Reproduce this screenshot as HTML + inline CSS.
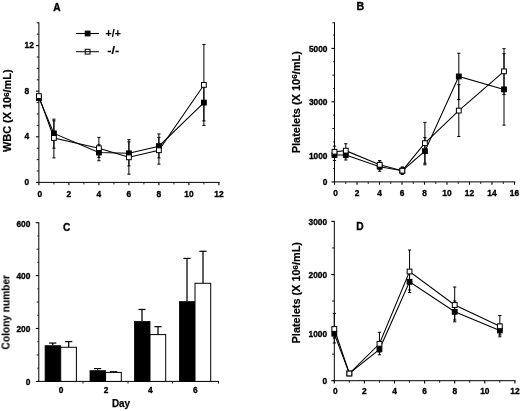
<!DOCTYPE html>
<html><head><meta charset="utf-8"><title>Figure</title>
<style>
html,body{margin:0;padding:0;background:#fff;}
body{width:520px;height:411px;overflow:hidden;font-family:'Liberation Sans', sans-serif;}
svg{display:block;font-family:'Liberation Sans',sans-serif;}
</style></head><body>
<svg width="520" height="411" viewBox="0 0 520 411" fill="#000">
<defs><filter id="soft" x="0" y="0" width="100%" height="100%" filterUnits="userSpaceOnUse"><feGaussianBlur stdDeviation="0.35"/></filter></defs>
<rect x="0" y="0" width="520" height="411" fill="#fff"/>
<g filter="url(#soft)">
<rect x="0" y="0" width="520" height="411" fill="#fff"/>
<line x1="38.90" y1="22.30" x2="38.90" y2="182.90" stroke="#000" stroke-width="1.0"/>
<line x1="38.40" y1="182.40" x2="219.70" y2="182.40" stroke="#000" stroke-width="1.0"/>
<line x1="35.90" y1="182.40" x2="38.90" y2="182.40" stroke="#000" stroke-width="1.1"/>
<line x1="35.90" y1="136.80" x2="38.90" y2="136.80" stroke="#000" stroke-width="1.1"/>
<line x1="35.90" y1="91.20" x2="38.90" y2="91.20" stroke="#000" stroke-width="1.1"/>
<line x1="35.90" y1="45.60" x2="38.90" y2="45.60" stroke="#000" stroke-width="1.1"/>
<line x1="36.70" y1="171.00" x2="38.90" y2="171.00" stroke="#000" stroke-width="0.9"/>
<line x1="36.70" y1="159.60" x2="38.90" y2="159.60" stroke="#000" stroke-width="0.9"/>
<line x1="36.70" y1="148.20" x2="38.90" y2="148.20" stroke="#000" stroke-width="0.9"/>
<line x1="36.70" y1="125.40" x2="38.90" y2="125.40" stroke="#000" stroke-width="0.9"/>
<line x1="36.70" y1="114.00" x2="38.90" y2="114.00" stroke="#000" stroke-width="0.9"/>
<line x1="36.70" y1="102.60" x2="38.90" y2="102.60" stroke="#000" stroke-width="0.9"/>
<line x1="36.70" y1="79.80" x2="38.90" y2="79.80" stroke="#000" stroke-width="0.9"/>
<line x1="36.70" y1="68.40" x2="38.90" y2="68.40" stroke="#000" stroke-width="0.9"/>
<line x1="36.70" y1="57.00" x2="38.90" y2="57.00" stroke="#000" stroke-width="0.9"/>
<line x1="36.70" y1="34.20" x2="38.90" y2="34.20" stroke="#000" stroke-width="0.9"/>
<line x1="36.70" y1="22.80" x2="38.90" y2="22.80" stroke="#000" stroke-width="0.9"/>
<line x1="38.90" y1="182.40" x2="38.90" y2="185.20" stroke="#000" stroke-width="1.1"/>
<line x1="68.90" y1="182.40" x2="68.90" y2="185.20" stroke="#000" stroke-width="1.1"/>
<line x1="98.90" y1="182.40" x2="98.90" y2="185.20" stroke="#000" stroke-width="1.1"/>
<line x1="128.90" y1="182.40" x2="128.90" y2="185.20" stroke="#000" stroke-width="1.1"/>
<line x1="158.90" y1="182.40" x2="158.90" y2="185.20" stroke="#000" stroke-width="1.1"/>
<line x1="188.90" y1="182.40" x2="188.90" y2="185.20" stroke="#000" stroke-width="1.1"/>
<line x1="218.90" y1="182.40" x2="218.90" y2="185.20" stroke="#000" stroke-width="1.1"/>
<line x1="53.90" y1="182.40" x2="53.90" y2="184.40" stroke="#000" stroke-width="0.9"/>
<line x1="83.90" y1="182.40" x2="83.90" y2="184.40" stroke="#000" stroke-width="0.9"/>
<line x1="113.90" y1="182.40" x2="113.90" y2="184.40" stroke="#000" stroke-width="0.9"/>
<line x1="143.90" y1="182.40" x2="143.90" y2="184.40" stroke="#000" stroke-width="0.9"/>
<line x1="173.90" y1="182.40" x2="173.90" y2="184.40" stroke="#000" stroke-width="0.9"/>
<line x1="203.90" y1="182.40" x2="203.90" y2="184.40" stroke="#000" stroke-width="0.9"/>
<text x="24.50" y="184.83" font-size="9.3" font-weight="bold" text-anchor="start" stroke="#000" stroke-width="0.35" textLength="4.65" lengthAdjust="spacingAndGlyphs">0</text>
<text x="24.50" y="139.23" font-size="9.3" font-weight="bold" text-anchor="start" stroke="#000" stroke-width="0.35" textLength="4.65" lengthAdjust="spacingAndGlyphs">4</text>
<text x="24.50" y="93.63" font-size="9.3" font-weight="bold" text-anchor="start" stroke="#000" stroke-width="0.35" textLength="4.65" lengthAdjust="spacingAndGlyphs">8</text>
<text x="24.50" y="48.03" font-size="9.3" font-weight="bold" text-anchor="start" stroke="#000" stroke-width="0.35" textLength="9.31" lengthAdjust="spacingAndGlyphs">12</text>
<text x="39.90" y="196.83" font-size="9.3" font-weight="bold" text-anchor="middle" stroke="#000" stroke-width="0.35" textLength="4.65" lengthAdjust="spacingAndGlyphs">0</text>
<text x="68.90" y="196.83" font-size="9.3" font-weight="bold" text-anchor="middle" stroke="#000" stroke-width="0.35" textLength="4.65" lengthAdjust="spacingAndGlyphs">2</text>
<text x="98.90" y="196.83" font-size="9.3" font-weight="bold" text-anchor="middle" stroke="#000" stroke-width="0.35" textLength="4.65" lengthAdjust="spacingAndGlyphs">4</text>
<text x="128.90" y="196.83" font-size="9.3" font-weight="bold" text-anchor="middle" stroke="#000" stroke-width="0.35" textLength="4.65" lengthAdjust="spacingAndGlyphs">6</text>
<text x="158.90" y="196.83" font-size="9.3" font-weight="bold" text-anchor="middle" stroke="#000" stroke-width="0.35" textLength="4.65" lengthAdjust="spacingAndGlyphs">8</text>
<text x="188.90" y="196.83" font-size="9.3" font-weight="bold" text-anchor="middle" stroke="#000" stroke-width="0.35" textLength="9.31" lengthAdjust="spacingAndGlyphs">10</text>
<text x="218.90" y="196.83" font-size="9.3" font-weight="bold" text-anchor="middle" stroke="#000" stroke-width="0.35" textLength="9.31" lengthAdjust="spacingAndGlyphs">12</text>
<line x1="53.90" y1="119.13" x2="53.90" y2="148.20" stroke="#000" stroke-width="1.0"/>
<line x1="52.30" y1="119.13" x2="55.50" y2="119.13" stroke="#000" stroke-width="1.0"/>
<line x1="52.30" y1="148.20" x2="55.50" y2="148.20" stroke="#000" stroke-width="1.0"/>
<line x1="98.90" y1="144.78" x2="98.90" y2="160.74" stroke="#000" stroke-width="1.0"/>
<line x1="97.30" y1="144.78" x2="100.50" y2="144.78" stroke="#000" stroke-width="1.0"/>
<line x1="97.30" y1="160.74" x2="100.50" y2="160.74" stroke="#000" stroke-width="1.0"/>
<line x1="128.90" y1="139.65" x2="128.90" y2="165.87" stroke="#000" stroke-width="1.0"/>
<line x1="127.30" y1="139.65" x2="130.50" y2="139.65" stroke="#000" stroke-width="1.0"/>
<line x1="127.30" y1="165.87" x2="130.50" y2="165.87" stroke="#000" stroke-width="1.0"/>
<line x1="158.90" y1="133.95" x2="158.90" y2="157.89" stroke="#000" stroke-width="1.0"/>
<line x1="157.30" y1="133.95" x2="160.50" y2="133.95" stroke="#000" stroke-width="1.0"/>
<line x1="157.30" y1="157.89" x2="160.50" y2="157.89" stroke="#000" stroke-width="1.0"/>
<line x1="203.90" y1="84.36" x2="203.90" y2="120.84" stroke="#000" stroke-width="1.0"/>
<line x1="202.30" y1="84.36" x2="205.50" y2="84.36" stroke="#000" stroke-width="1.0"/>
<line x1="202.30" y1="120.84" x2="205.50" y2="120.84" stroke="#000" stroke-width="1.0"/>
<polyline points="38.90,98.04 53.90,133.38 98.90,152.53 128.90,153.33 158.90,146.15 203.90,102.60" fill="none" stroke="#000" stroke-width="1.05"/>
<line x1="53.90" y1="120.84" x2="53.90" y2="157.89" stroke="#000" stroke-width="1.0"/>
<line x1="52.30" y1="120.84" x2="55.50" y2="120.84" stroke="#000" stroke-width="1.0"/>
<line x1="52.30" y1="157.89" x2="55.50" y2="157.89" stroke="#000" stroke-width="1.0"/>
<line x1="98.90" y1="137.37" x2="98.90" y2="157.32" stroke="#000" stroke-width="1.0"/>
<line x1="97.30" y1="137.37" x2="100.50" y2="137.37" stroke="#000" stroke-width="1.0"/>
<line x1="97.30" y1="157.32" x2="100.50" y2="157.32" stroke="#000" stroke-width="1.0"/>
<line x1="128.90" y1="141.93" x2="128.90" y2="174.19" stroke="#000" stroke-width="1.0"/>
<line x1="127.30" y1="141.93" x2="130.50" y2="141.93" stroke="#000" stroke-width="1.0"/>
<line x1="127.30" y1="174.19" x2="130.50" y2="174.19" stroke="#000" stroke-width="1.0"/>
<line x1="158.90" y1="137.37" x2="158.90" y2="164.16" stroke="#000" stroke-width="1.0"/>
<line x1="157.30" y1="137.37" x2="160.50" y2="137.37" stroke="#000" stroke-width="1.0"/>
<line x1="157.30" y1="164.16" x2="160.50" y2="164.16" stroke="#000" stroke-width="1.0"/>
<line x1="203.90" y1="44.46" x2="203.90" y2="125.40" stroke="#000" stroke-width="1.0"/>
<line x1="202.30" y1="44.46" x2="205.50" y2="44.46" stroke="#000" stroke-width="1.0"/>
<line x1="202.30" y1="125.40" x2="205.50" y2="125.40" stroke="#000" stroke-width="1.0"/>
<polyline points="38.90,96.10 53.90,137.94 98.90,148.20 128.90,157.32 158.90,150.25 203.90,84.93" fill="none" stroke="#000" stroke-width="1.05"/>
<rect x="36.50" y="95.64" width="4.8" height="4.8" fill="#000" stroke="#000" stroke-width="1"/>
<rect x="51.50" y="130.98" width="4.8" height="4.8" fill="#000" stroke="#000" stroke-width="1"/>
<rect x="96.50" y="150.13" width="4.8" height="4.8" fill="#000" stroke="#000" stroke-width="1"/>
<rect x="126.50" y="150.93" width="4.8" height="4.8" fill="#000" stroke="#000" stroke-width="1"/>
<rect x="156.50" y="143.75" width="4.8" height="4.8" fill="#000" stroke="#000" stroke-width="1"/>
<rect x="201.50" y="100.20" width="4.8" height="4.8" fill="#000" stroke="#000" stroke-width="1"/>
<rect x="36.50" y="93.70" width="4.8" height="4.8" fill="#fff" stroke="#000" stroke-width="1"/>
<rect x="51.50" y="135.54" width="4.8" height="4.8" fill="#fff" stroke="#000" stroke-width="1"/>
<rect x="96.50" y="145.80" width="4.8" height="4.8" fill="#fff" stroke="#000" stroke-width="1"/>
<rect x="126.50" y="154.92" width="4.8" height="4.8" fill="#fff" stroke="#000" stroke-width="1"/>
<rect x="156.50" y="147.85" width="4.8" height="4.8" fill="#fff" stroke="#000" stroke-width="1"/>
<rect x="201.50" y="82.53" width="4.8" height="4.8" fill="#fff" stroke="#000" stroke-width="1"/>
<text x="57.00" y="10.65" font-size="10.2" font-weight="bold" text-anchor="middle" stroke="#000" stroke-width="0.35">A</text>
<line x1="75.90" y1="33.50" x2="98.90" y2="33.50" stroke="#000" stroke-width="1.1"/>
<rect x="85.20" y="31.10" width="4.8" height="4.8" fill="#000" stroke="#000" stroke-width="1"/>
<rect x="85.20" y="49.30" width="4.8" height="4.8" fill="#fff" stroke="#000" stroke-width="1"/>
<line x1="75.90" y1="51.70" x2="98.90" y2="51.70" stroke="#000" stroke-width="1.0"/>
<text x="113.20" y="37.40" font-size="11" font-weight="bold" text-anchor="middle" stroke="#000" stroke-width="0.15" textLength="15.2" lengthAdjust="spacingAndGlyphs">+/+</text>
<text x="113.20" y="53.90" font-size="11" font-weight="bold" text-anchor="middle" stroke="#000" stroke-width="0.15" textLength="11.9" lengthAdjust="spacingAndGlyphs">-/-</text>
<text x="11.40" y="110.70" font-size="11" font-weight="bold" text-anchor="middle" stroke="#000" stroke-width="0.2" transform="rotate(-90 11.40 110.70)" textLength="82.7" lengthAdjust="spacingAndGlyphs">WBC (X 10<tspan font-size="8" dy="-2.6">6</tspan><tspan dy="2.6">/mL)</tspan></text>
<line x1="334.50" y1="22.27" x2="334.50" y2="182.40" stroke="#000" stroke-width="1.0"/>
<line x1="334.00" y1="181.90" x2="515.30" y2="181.90" stroke="#000" stroke-width="1.0"/>
<line x1="331.50" y1="181.90" x2="334.50" y2="181.90" stroke="#000" stroke-width="1.1"/>
<line x1="331.50" y1="155.20" x2="334.50" y2="155.20" stroke="#000" stroke-width="1.1"/>
<line x1="331.50" y1="101.80" x2="334.50" y2="101.80" stroke="#000" stroke-width="1.1"/>
<line x1="331.50" y1="48.40" x2="334.50" y2="48.40" stroke="#000" stroke-width="1.1"/>
<line x1="332.30" y1="128.50" x2="334.50" y2="128.50" stroke="#000" stroke-width="0.9"/>
<line x1="332.30" y1="75.10" x2="334.50" y2="75.10" stroke="#000" stroke-width="0.9"/>
<line x1="332.30" y1="22.77" x2="334.50" y2="22.77" stroke="#000" stroke-width="0.9"/>
<line x1="333.00" y1="168.55" x2="334.50" y2="168.55" stroke="#000" stroke-width="0.8"/>
<line x1="333.00" y1="141.85" x2="334.50" y2="141.85" stroke="#000" stroke-width="0.8"/>
<line x1="333.00" y1="115.15" x2="334.50" y2="115.15" stroke="#000" stroke-width="0.8"/>
<line x1="333.00" y1="88.45" x2="334.50" y2="88.45" stroke="#000" stroke-width="0.8"/>
<line x1="333.00" y1="61.75" x2="334.50" y2="61.75" stroke="#000" stroke-width="0.8"/>
<line x1="333.00" y1="35.05" x2="334.50" y2="35.05" stroke="#000" stroke-width="0.8"/>
<line x1="334.50" y1="181.90" x2="334.50" y2="184.70" stroke="#000" stroke-width="1.1"/>
<line x1="357.00" y1="181.90" x2="357.00" y2="184.70" stroke="#000" stroke-width="1.1"/>
<line x1="379.50" y1="181.90" x2="379.50" y2="184.70" stroke="#000" stroke-width="1.1"/>
<line x1="402.00" y1="181.90" x2="402.00" y2="184.70" stroke="#000" stroke-width="1.1"/>
<line x1="424.50" y1="181.90" x2="424.50" y2="184.70" stroke="#000" stroke-width="1.1"/>
<line x1="447.00" y1="181.90" x2="447.00" y2="184.70" stroke="#000" stroke-width="1.1"/>
<line x1="469.50" y1="181.90" x2="469.50" y2="184.70" stroke="#000" stroke-width="1.1"/>
<line x1="492.00" y1="181.90" x2="492.00" y2="184.70" stroke="#000" stroke-width="1.1"/>
<line x1="514.50" y1="181.90" x2="514.50" y2="184.70" stroke="#000" stroke-width="1.1"/>
<line x1="345.75" y1="181.90" x2="345.75" y2="183.90" stroke="#000" stroke-width="0.9"/>
<line x1="368.25" y1="181.90" x2="368.25" y2="183.90" stroke="#000" stroke-width="0.9"/>
<line x1="390.75" y1="181.90" x2="390.75" y2="183.90" stroke="#000" stroke-width="0.9"/>
<line x1="413.25" y1="181.90" x2="413.25" y2="183.90" stroke="#000" stroke-width="0.9"/>
<line x1="435.75" y1="181.90" x2="435.75" y2="183.90" stroke="#000" stroke-width="0.9"/>
<line x1="458.25" y1="181.90" x2="458.25" y2="183.90" stroke="#000" stroke-width="0.9"/>
<line x1="480.75" y1="181.90" x2="480.75" y2="183.90" stroke="#000" stroke-width="0.9"/>
<line x1="503.25" y1="181.90" x2="503.25" y2="183.90" stroke="#000" stroke-width="0.9"/>
<text x="327.50" y="185.23" font-size="9.3" font-weight="bold" text-anchor="end" stroke="#000" stroke-width="0.35" textLength="4.65" lengthAdjust="spacingAndGlyphs">0</text>
<text x="327.50" y="158.53" font-size="9.3" font-weight="bold" text-anchor="end" stroke="#000" stroke-width="0.35" textLength="18.61" lengthAdjust="spacingAndGlyphs">1000</text>
<text x="327.50" y="105.13" font-size="9.3" font-weight="bold" text-anchor="end" stroke="#000" stroke-width="0.35" textLength="18.61" lengthAdjust="spacingAndGlyphs">3000</text>
<text x="327.50" y="51.73" font-size="9.3" font-weight="bold" text-anchor="end" stroke="#000" stroke-width="0.35" textLength="18.61" lengthAdjust="spacingAndGlyphs">5000</text>
<text x="335.50" y="196.43" font-size="9.3" font-weight="bold" text-anchor="middle" stroke="#000" stroke-width="0.35" textLength="4.65" lengthAdjust="spacingAndGlyphs">0</text>
<text x="357.00" y="196.43" font-size="9.3" font-weight="bold" text-anchor="middle" stroke="#000" stroke-width="0.35" textLength="4.65" lengthAdjust="spacingAndGlyphs">2</text>
<text x="379.50" y="196.43" font-size="9.3" font-weight="bold" text-anchor="middle" stroke="#000" stroke-width="0.35" textLength="4.65" lengthAdjust="spacingAndGlyphs">4</text>
<text x="402.00" y="196.43" font-size="9.3" font-weight="bold" text-anchor="middle" stroke="#000" stroke-width="0.35" textLength="4.65" lengthAdjust="spacingAndGlyphs">6</text>
<text x="424.50" y="196.43" font-size="9.3" font-weight="bold" text-anchor="middle" stroke="#000" stroke-width="0.35" textLength="4.65" lengthAdjust="spacingAndGlyphs">8</text>
<text x="447.00" y="196.43" font-size="9.3" font-weight="bold" text-anchor="middle" stroke="#000" stroke-width="0.35" textLength="9.31" lengthAdjust="spacingAndGlyphs">10</text>
<text x="469.50" y="196.43" font-size="9.3" font-weight="bold" text-anchor="middle" stroke="#000" stroke-width="0.35" textLength="9.31" lengthAdjust="spacingAndGlyphs">12</text>
<text x="492.00" y="196.43" font-size="9.3" font-weight="bold" text-anchor="middle" stroke="#000" stroke-width="0.35" textLength="9.31" lengthAdjust="spacingAndGlyphs">14</text>
<text x="514.50" y="196.43" font-size="9.3" font-weight="bold" text-anchor="middle" stroke="#000" stroke-width="0.35" textLength="9.31" lengthAdjust="spacingAndGlyphs">16</text>
<line x1="334.50" y1="149.86" x2="334.50" y2="160.54" stroke="#000" stroke-width="1.0"/>
<line x1="332.90" y1="149.86" x2="336.10" y2="149.86" stroke="#000" stroke-width="1.0"/>
<line x1="332.90" y1="160.54" x2="336.10" y2="160.54" stroke="#000" stroke-width="1.0"/>
<line x1="345.80" y1="149.86" x2="345.80" y2="160.01" stroke="#000" stroke-width="1.0"/>
<line x1="344.20" y1="149.86" x2="347.40" y2="149.86" stroke="#000" stroke-width="1.0"/>
<line x1="344.20" y1="160.01" x2="347.40" y2="160.01" stroke="#000" stroke-width="1.0"/>
<line x1="379.70" y1="162.14" x2="379.70" y2="171.22" stroke="#000" stroke-width="1.0"/>
<line x1="378.10" y1="162.14" x2="381.30" y2="162.14" stroke="#000" stroke-width="1.0"/>
<line x1="378.10" y1="171.22" x2="381.30" y2="171.22" stroke="#000" stroke-width="1.0"/>
<line x1="402.30" y1="167.48" x2="402.30" y2="173.89" stroke="#000" stroke-width="1.0"/>
<line x1="400.70" y1="167.48" x2="403.90" y2="167.48" stroke="#000" stroke-width="1.0"/>
<line x1="400.70" y1="173.89" x2="403.90" y2="173.89" stroke="#000" stroke-width="1.0"/>
<line x1="424.90" y1="137.58" x2="424.90" y2="164.81" stroke="#000" stroke-width="1.0"/>
<line x1="423.30" y1="137.58" x2="426.50" y2="137.58" stroke="#000" stroke-width="1.0"/>
<line x1="423.30" y1="164.81" x2="426.50" y2="164.81" stroke="#000" stroke-width="1.0"/>
<line x1="458.80" y1="53.21" x2="458.80" y2="99.66" stroke="#000" stroke-width="1.0"/>
<line x1="457.20" y1="53.21" x2="460.40" y2="53.21" stroke="#000" stroke-width="1.0"/>
<line x1="457.20" y1="99.66" x2="460.40" y2="99.66" stroke="#000" stroke-width="1.0"/>
<line x1="504.00" y1="53.61" x2="504.00" y2="125.16" stroke="#000" stroke-width="1.0"/>
<line x1="502.40" y1="53.61" x2="505.60" y2="53.61" stroke="#000" stroke-width="1.0"/>
<line x1="502.40" y1="125.16" x2="505.60" y2="125.16" stroke="#000" stroke-width="1.0"/>
<polyline points="334.50,154.93 345.80,154.93 379.70,166.68 402.30,170.69 424.90,151.19 458.80,76.44 504.00,89.38" fill="none" stroke="#000" stroke-width="1.05"/>
<line x1="334.50" y1="146.12" x2="334.50" y2="157.34" stroke="#000" stroke-width="1.0"/>
<line x1="332.90" y1="146.12" x2="336.10" y2="146.12" stroke="#000" stroke-width="1.0"/>
<line x1="332.90" y1="157.34" x2="336.10" y2="157.34" stroke="#000" stroke-width="1.0"/>
<line x1="345.80" y1="143.72" x2="345.80" y2="157.87" stroke="#000" stroke-width="1.0"/>
<line x1="344.20" y1="143.72" x2="347.40" y2="143.72" stroke="#000" stroke-width="1.0"/>
<line x1="344.20" y1="157.87" x2="347.40" y2="157.87" stroke="#000" stroke-width="1.0"/>
<line x1="379.70" y1="160.54" x2="379.70" y2="169.08" stroke="#000" stroke-width="1.0"/>
<line x1="378.10" y1="160.54" x2="381.30" y2="160.54" stroke="#000" stroke-width="1.0"/>
<line x1="378.10" y1="169.08" x2="381.30" y2="169.08" stroke="#000" stroke-width="1.0"/>
<line x1="402.30" y1="166.95" x2="402.30" y2="174.42" stroke="#000" stroke-width="1.0"/>
<line x1="400.70" y1="166.95" x2="403.90" y2="166.95" stroke="#000" stroke-width="1.0"/>
<line x1="400.70" y1="174.42" x2="403.90" y2="174.42" stroke="#000" stroke-width="1.0"/>
<line x1="424.90" y1="122.36" x2="424.90" y2="163.21" stroke="#000" stroke-width="1.0"/>
<line x1="423.30" y1="122.36" x2="426.50" y2="122.36" stroke="#000" stroke-width="1.0"/>
<line x1="423.30" y1="163.21" x2="426.50" y2="163.21" stroke="#000" stroke-width="1.0"/>
<line x1="458.80" y1="84.71" x2="458.80" y2="136.51" stroke="#000" stroke-width="1.0"/>
<line x1="457.20" y1="84.71" x2="460.40" y2="84.71" stroke="#000" stroke-width="1.0"/>
<line x1="457.20" y1="136.51" x2="460.40" y2="136.51" stroke="#000" stroke-width="1.0"/>
<line x1="504.00" y1="48.67" x2="504.00" y2="94.59" stroke="#000" stroke-width="1.0"/>
<line x1="502.40" y1="48.67" x2="505.60" y2="48.67" stroke="#000" stroke-width="1.0"/>
<line x1="502.40" y1="94.59" x2="505.60" y2="94.59" stroke="#000" stroke-width="1.0"/>
<polyline points="334.50,151.73 345.80,150.66 379.70,164.81 402.30,170.69 424.90,143.19 458.80,110.61 504.00,71.36" fill="none" stroke="#000" stroke-width="1.05"/>
<rect x="332.10" y="152.53" width="4.8" height="4.8" fill="#000" stroke="#000" stroke-width="1"/>
<rect x="343.40" y="152.53" width="4.8" height="4.8" fill="#000" stroke="#000" stroke-width="1"/>
<rect x="377.30" y="164.28" width="4.8" height="4.8" fill="#000" stroke="#000" stroke-width="1"/>
<rect x="399.90" y="168.29" width="4.8" height="4.8" fill="#000" stroke="#000" stroke-width="1"/>
<rect x="422.50" y="148.79" width="4.8" height="4.8" fill="#000" stroke="#000" stroke-width="1"/>
<rect x="456.40" y="74.03" width="4.8" height="4.8" fill="#000" stroke="#000" stroke-width="1"/>
<rect x="501.60" y="86.98" width="4.8" height="4.8" fill="#000" stroke="#000" stroke-width="1"/>
<rect x="332.10" y="149.33" width="4.8" height="4.8" fill="#fff" stroke="#000" stroke-width="1"/>
<rect x="343.40" y="148.26" width="4.8" height="4.8" fill="#fff" stroke="#000" stroke-width="1"/>
<rect x="377.30" y="162.41" width="4.8" height="4.8" fill="#fff" stroke="#000" stroke-width="1"/>
<rect x="399.90" y="168.29" width="4.8" height="4.8" fill="#fff" stroke="#000" stroke-width="1"/>
<rect x="422.50" y="140.78" width="4.8" height="4.8" fill="#fff" stroke="#000" stroke-width="1"/>
<rect x="456.40" y="108.21" width="4.8" height="4.8" fill="#fff" stroke="#000" stroke-width="1"/>
<rect x="501.60" y="68.96" width="4.8" height="4.8" fill="#fff" stroke="#000" stroke-width="1"/>
<text x="360.30" y="10.10" font-size="10.6" font-weight="bold" text-anchor="middle" stroke="#000" stroke-width="0.35">B</text>
<text x="300.00" y="102.20" font-size="11" font-weight="bold" text-anchor="middle" stroke="#000" stroke-width="0.2" transform="rotate(-90 300.00 102.20)" textLength="102.2" lengthAdjust="spacingAndGlyphs">Platelets (X 10<tspan font-size="8" dy="-2.6">6</tspan><tspan dy="2.6">/mL)</tspan></text>
<line x1="38.80" y1="222.20" x2="38.80" y2="381.90" stroke="#000" stroke-width="1.0"/>
<line x1="38.30" y1="381.40" x2="219.00" y2="381.40" stroke="#000" stroke-width="1.0"/>
<line x1="35.80" y1="381.40" x2="38.80" y2="381.40" stroke="#000" stroke-width="1.1"/>
<line x1="35.80" y1="328.50" x2="38.80" y2="328.50" stroke="#000" stroke-width="1.1"/>
<line x1="35.80" y1="275.60" x2="38.80" y2="275.60" stroke="#000" stroke-width="1.1"/>
<line x1="35.80" y1="222.70" x2="38.80" y2="222.70" stroke="#000" stroke-width="1.1"/>
<line x1="36.60" y1="354.95" x2="38.80" y2="354.95" stroke="#000" stroke-width="0.9"/>
<line x1="36.60" y1="302.05" x2="38.80" y2="302.05" stroke="#000" stroke-width="0.9"/>
<line x1="36.60" y1="249.15" x2="38.80" y2="249.15" stroke="#000" stroke-width="0.9"/>
<line x1="37.30" y1="368.17" x2="38.80" y2="368.17" stroke="#000" stroke-width="0.8"/>
<line x1="37.30" y1="341.72" x2="38.80" y2="341.72" stroke="#000" stroke-width="0.8"/>
<line x1="37.30" y1="315.27" x2="38.80" y2="315.27" stroke="#000" stroke-width="0.8"/>
<line x1="37.30" y1="288.82" x2="38.80" y2="288.82" stroke="#000" stroke-width="0.8"/>
<line x1="37.30" y1="262.38" x2="38.80" y2="262.38" stroke="#000" stroke-width="0.8"/>
<line x1="37.30" y1="235.92" x2="38.80" y2="235.92" stroke="#000" stroke-width="0.8"/>
<text x="30.40" y="385.23" font-size="9.3" font-weight="bold" text-anchor="end" stroke="#000" stroke-width="0.35" textLength="4.65" lengthAdjust="spacingAndGlyphs">0</text>
<text x="30.40" y="332.33" font-size="9.3" font-weight="bold" text-anchor="end" stroke="#000" stroke-width="0.35" textLength="13.96" lengthAdjust="spacingAndGlyphs">200</text>
<text x="30.40" y="279.43" font-size="9.3" font-weight="bold" text-anchor="end" stroke="#000" stroke-width="0.35" textLength="13.96" lengthAdjust="spacingAndGlyphs">400</text>
<text x="30.40" y="226.53" font-size="9.3" font-weight="bold" text-anchor="end" stroke="#000" stroke-width="0.35" textLength="13.96" lengthAdjust="spacingAndGlyphs">600</text>
<line x1="83.00" y1="381.40" x2="83.00" y2="383.60" stroke="#000" stroke-width="0.9"/>
<line x1="128.00" y1="381.40" x2="128.00" y2="383.60" stroke="#000" stroke-width="0.9"/>
<line x1="172.50" y1="381.40" x2="172.50" y2="383.60" stroke="#000" stroke-width="0.9"/>
<line x1="218.50" y1="381.40" x2="218.50" y2="383.60" stroke="#000" stroke-width="0.9"/>
<line x1="52.70" y1="345.30" x2="52.70" y2="343.05" stroke="#000" stroke-width="1.25"/>
<line x1="49.10" y1="343.05" x2="56.30" y2="343.05" stroke="#000" stroke-width="1.2"/>
<line x1="68.70" y1="347.28" x2="68.70" y2="341.59" stroke="#000" stroke-width="1.25"/>
<line x1="65.10" y1="341.59" x2="72.30" y2="341.59" stroke="#000" stroke-width="1.2"/>
<rect x="45.10" y="345.70" width="15.6" height="35.70" fill="#000" stroke="#000" stroke-width="0.8"/>
<rect x="60.70" y="347.28" width="15.7" height="34.12" fill="#fff" stroke="#000" stroke-width="1"/>
<text x="61.10" y="392.93" font-size="9.3" font-weight="bold" text-anchor="middle" stroke="#000" stroke-width="0.35" textLength="4.65" lengthAdjust="spacingAndGlyphs">0</text>
<line x1="97.60" y1="370.29" x2="97.60" y2="368.57" stroke="#000" stroke-width="1.25"/>
<line x1="94.00" y1="368.57" x2="101.20" y2="368.57" stroke="#000" stroke-width="1.2"/>
<line x1="113.60" y1="372.41" x2="113.60" y2="371.75" stroke="#000" stroke-width="1.25"/>
<line x1="110.00" y1="371.75" x2="117.20" y2="371.75" stroke="#000" stroke-width="1.2"/>
<rect x="90.00" y="370.69" width="15.6" height="10.71" fill="#000" stroke="#000" stroke-width="0.8"/>
<rect x="105.60" y="372.41" width="15.7" height="8.99" fill="#fff" stroke="#000" stroke-width="1"/>
<text x="106.00" y="392.93" font-size="9.3" font-weight="bold" text-anchor="middle" stroke="#000" stroke-width="0.35" textLength="4.65" lengthAdjust="spacingAndGlyphs">2</text>
<line x1="142.00" y1="321.09" x2="142.00" y2="309.46" stroke="#000" stroke-width="1.25"/>
<line x1="138.40" y1="309.46" x2="145.60" y2="309.46" stroke="#000" stroke-width="1.2"/>
<line x1="158.00" y1="334.58" x2="158.00" y2="326.65" stroke="#000" stroke-width="1.25"/>
<line x1="154.40" y1="326.65" x2="161.60" y2="326.65" stroke="#000" stroke-width="1.2"/>
<rect x="134.40" y="321.49" width="15.6" height="59.91" fill="#000" stroke="#000" stroke-width="0.8"/>
<rect x="150.00" y="334.58" width="15.7" height="46.82" fill="#fff" stroke="#000" stroke-width="1"/>
<text x="150.40" y="392.93" font-size="9.3" font-weight="bold" text-anchor="middle" stroke="#000" stroke-width="0.35" textLength="4.65" lengthAdjust="spacingAndGlyphs">4</text>
<line x1="187.00" y1="301.26" x2="187.00" y2="258.41" stroke="#000" stroke-width="1.25"/>
<line x1="183.40" y1="258.41" x2="190.60" y2="258.41" stroke="#000" stroke-width="1.2"/>
<line x1="203.00" y1="283.27" x2="203.00" y2="251.27" stroke="#000" stroke-width="1.25"/>
<line x1="199.40" y1="251.27" x2="206.60" y2="251.27" stroke="#000" stroke-width="1.2"/>
<rect x="179.40" y="301.66" width="15.6" height="79.74" fill="#000" stroke="#000" stroke-width="0.8"/>
<rect x="195.00" y="283.27" width="15.7" height="98.13" fill="#fff" stroke="#000" stroke-width="1"/>
<text x="195.40" y="392.93" font-size="9.3" font-weight="bold" text-anchor="middle" stroke="#000" stroke-width="0.35" textLength="4.65" lengthAdjust="spacingAndGlyphs">6</text>
<text x="66.60" y="231.05" font-size="10.2" font-weight="bold" text-anchor="middle" stroke="#000" stroke-width="0.35">C</text>
<text x="121.00" y="406.50" font-size="10.3" font-weight="bold" text-anchor="middle" stroke="#000" stroke-width="0.25" textLength="18.2" lengthAdjust="spacingAndGlyphs">Day</text>
<text x="9.80" y="312.30" font-size="10.9" font-weight="bold" text-anchor="middle" stroke="#000" stroke-width="0.12" transform="rotate(-90 9.80 312.30)" textLength="74.4" lengthAdjust="spacingAndGlyphs">Colony number</text>
<line x1="334.30" y1="220.90" x2="334.30" y2="381.20" stroke="#000" stroke-width="1.0"/>
<line x1="333.80" y1="380.70" x2="515.70" y2="380.70" stroke="#000" stroke-width="1.0"/>
<line x1="331.30" y1="380.70" x2="334.30" y2="380.70" stroke="#000" stroke-width="1.1"/>
<line x1="331.30" y1="327.60" x2="334.30" y2="327.60" stroke="#000" stroke-width="1.1"/>
<line x1="331.30" y1="274.50" x2="334.30" y2="274.50" stroke="#000" stroke-width="1.1"/>
<line x1="331.30" y1="221.40" x2="334.30" y2="221.40" stroke="#000" stroke-width="1.1"/>
<line x1="332.10" y1="354.15" x2="334.30" y2="354.15" stroke="#000" stroke-width="0.9"/>
<line x1="332.10" y1="301.05" x2="334.30" y2="301.05" stroke="#000" stroke-width="0.9"/>
<line x1="332.10" y1="247.95" x2="334.30" y2="247.95" stroke="#000" stroke-width="0.9"/>
<line x1="334.30" y1="380.70" x2="334.30" y2="383.50" stroke="#000" stroke-width="1.1"/>
<line x1="364.40" y1="380.70" x2="364.40" y2="383.50" stroke="#000" stroke-width="1.1"/>
<line x1="394.50" y1="380.70" x2="394.50" y2="383.50" stroke="#000" stroke-width="1.1"/>
<line x1="424.60" y1="380.70" x2="424.60" y2="383.50" stroke="#000" stroke-width="1.1"/>
<line x1="454.70" y1="380.70" x2="454.70" y2="383.50" stroke="#000" stroke-width="1.1"/>
<line x1="484.80" y1="380.70" x2="484.80" y2="383.50" stroke="#000" stroke-width="1.1"/>
<line x1="514.90" y1="380.70" x2="514.90" y2="383.50" stroke="#000" stroke-width="1.1"/>
<line x1="349.35" y1="380.70" x2="349.35" y2="382.70" stroke="#000" stroke-width="0.9"/>
<line x1="379.45" y1="380.70" x2="379.45" y2="382.70" stroke="#000" stroke-width="0.9"/>
<line x1="409.55" y1="380.70" x2="409.55" y2="382.70" stroke="#000" stroke-width="0.9"/>
<line x1="439.65" y1="380.70" x2="439.65" y2="382.70" stroke="#000" stroke-width="0.9"/>
<line x1="469.75" y1="380.70" x2="469.75" y2="382.70" stroke="#000" stroke-width="0.9"/>
<line x1="499.85" y1="380.70" x2="499.85" y2="382.70" stroke="#000" stroke-width="0.9"/>
<text x="327.10" y="384.03" font-size="9.3" font-weight="bold" text-anchor="end" stroke="#000" stroke-width="0.35" textLength="4.65" lengthAdjust="spacingAndGlyphs">0</text>
<text x="327.10" y="336.83" font-size="9.3" font-weight="bold" text-anchor="end" stroke="#000" stroke-width="0.35" textLength="18.61" lengthAdjust="spacingAndGlyphs">1000</text>
<text x="327.10" y="277.83" font-size="9.3" font-weight="bold" text-anchor="end" stroke="#000" stroke-width="0.35" textLength="18.61" lengthAdjust="spacingAndGlyphs">2000</text>
<text x="327.10" y="224.73" font-size="9.3" font-weight="bold" text-anchor="end" stroke="#000" stroke-width="0.35" textLength="18.61" lengthAdjust="spacingAndGlyphs">3000</text>
<text x="335.30" y="393.63" font-size="9.3" font-weight="bold" text-anchor="middle" stroke="#000" stroke-width="0.35" textLength="4.65" lengthAdjust="spacingAndGlyphs">0</text>
<text x="364.40" y="393.63" font-size="9.3" font-weight="bold" text-anchor="middle" stroke="#000" stroke-width="0.35" textLength="4.65" lengthAdjust="spacingAndGlyphs">2</text>
<text x="394.50" y="393.63" font-size="9.3" font-weight="bold" text-anchor="middle" stroke="#000" stroke-width="0.35" textLength="4.65" lengthAdjust="spacingAndGlyphs">4</text>
<text x="424.60" y="393.63" font-size="9.3" font-weight="bold" text-anchor="middle" stroke="#000" stroke-width="0.35" textLength="4.65" lengthAdjust="spacingAndGlyphs">6</text>
<text x="454.70" y="393.63" font-size="9.3" font-weight="bold" text-anchor="middle" stroke="#000" stroke-width="0.35" textLength="4.65" lengthAdjust="spacingAndGlyphs">8</text>
<text x="484.80" y="393.63" font-size="9.3" font-weight="bold" text-anchor="middle" stroke="#000" stroke-width="0.35" textLength="9.31" lengthAdjust="spacingAndGlyphs">10</text>
<text x="514.90" y="393.63" font-size="9.3" font-weight="bold" text-anchor="middle" stroke="#000" stroke-width="0.35" textLength="9.31" lengthAdjust="spacingAndGlyphs">12</text>
<line x1="334.30" y1="328.00" x2="334.30" y2="338.00" stroke="#000" stroke-width="1.0"/>
<line x1="332.70" y1="328.00" x2="335.90" y2="328.00" stroke="#000" stroke-width="1.0"/>
<line x1="332.70" y1="338.00" x2="335.90" y2="338.00" stroke="#000" stroke-width="1.0"/>
<line x1="379.45" y1="343.00" x2="379.45" y2="354.80" stroke="#000" stroke-width="1.0"/>
<line x1="377.85" y1="343.00" x2="381.05" y2="343.00" stroke="#000" stroke-width="1.0"/>
<line x1="377.85" y1="354.80" x2="381.05" y2="354.80" stroke="#000" stroke-width="1.0"/>
<line x1="409.55" y1="270.00" x2="409.55" y2="292.50" stroke="#000" stroke-width="1.0"/>
<line x1="407.95" y1="270.00" x2="411.15" y2="270.00" stroke="#000" stroke-width="1.0"/>
<line x1="407.95" y1="292.50" x2="411.15" y2="292.50" stroke="#000" stroke-width="1.0"/>
<line x1="454.70" y1="301.00" x2="454.70" y2="321.80" stroke="#000" stroke-width="1.0"/>
<line x1="453.10" y1="301.00" x2="456.30" y2="301.00" stroke="#000" stroke-width="1.0"/>
<line x1="453.10" y1="321.80" x2="456.30" y2="321.80" stroke="#000" stroke-width="1.0"/>
<line x1="499.85" y1="324.00" x2="499.85" y2="336.80" stroke="#000" stroke-width="1.0"/>
<line x1="498.25" y1="324.00" x2="501.45" y2="324.00" stroke="#000" stroke-width="1.0"/>
<line x1="498.25" y1="336.80" x2="501.45" y2="336.80" stroke="#000" stroke-width="1.0"/>
<polyline points="334.30,333.70 349.35,373.50 379.45,349.30 409.55,281.80 454.70,311.80 499.85,330.50" fill="none" stroke="#000" stroke-width="1.05"/>
<line x1="334.30" y1="313.40" x2="334.30" y2="343.00" stroke="#000" stroke-width="1.0"/>
<line x1="332.70" y1="313.40" x2="335.90" y2="313.40" stroke="#000" stroke-width="1.0"/>
<line x1="332.70" y1="343.00" x2="335.90" y2="343.00" stroke="#000" stroke-width="1.0"/>
<line x1="379.45" y1="332.30" x2="379.45" y2="352.00" stroke="#000" stroke-width="1.0"/>
<line x1="377.85" y1="332.30" x2="381.05" y2="332.30" stroke="#000" stroke-width="1.0"/>
<line x1="377.85" y1="352.00" x2="381.05" y2="352.00" stroke="#000" stroke-width="1.0"/>
<line x1="409.55" y1="250.00" x2="409.55" y2="290.00" stroke="#000" stroke-width="1.0"/>
<line x1="407.95" y1="250.00" x2="411.15" y2="250.00" stroke="#000" stroke-width="1.0"/>
<line x1="407.95" y1="290.00" x2="411.15" y2="290.00" stroke="#000" stroke-width="1.0"/>
<line x1="454.70" y1="287.00" x2="454.70" y2="320.00" stroke="#000" stroke-width="1.0"/>
<line x1="453.10" y1="287.00" x2="456.30" y2="287.00" stroke="#000" stroke-width="1.0"/>
<line x1="453.10" y1="320.00" x2="456.30" y2="320.00" stroke="#000" stroke-width="1.0"/>
<line x1="499.85" y1="315.50" x2="499.85" y2="335.00" stroke="#000" stroke-width="1.0"/>
<line x1="498.25" y1="315.50" x2="501.45" y2="315.50" stroke="#000" stroke-width="1.0"/>
<line x1="498.25" y1="335.00" x2="501.45" y2="335.00" stroke="#000" stroke-width="1.0"/>
<polyline points="334.30,329.00 349.35,373.50 379.45,343.80 409.55,271.50 454.70,305.00 499.85,326.30" fill="none" stroke="#000" stroke-width="1.05"/>
<rect x="331.90" y="331.30" width="4.8" height="4.8" fill="#000" stroke="#000" stroke-width="1"/>
<rect x="346.95" y="371.10" width="4.8" height="4.8" fill="#000" stroke="#000" stroke-width="1"/>
<rect x="377.05" y="346.90" width="4.8" height="4.8" fill="#000" stroke="#000" stroke-width="1"/>
<rect x="407.15" y="279.40" width="4.8" height="4.8" fill="#000" stroke="#000" stroke-width="1"/>
<rect x="452.30" y="309.40" width="4.8" height="4.8" fill="#000" stroke="#000" stroke-width="1"/>
<rect x="497.45" y="328.10" width="4.8" height="4.8" fill="#000" stroke="#000" stroke-width="1"/>
<rect x="331.90" y="326.60" width="4.8" height="4.8" fill="#fff" stroke="#000" stroke-width="1"/>
<rect x="346.95" y="371.10" width="4.8" height="4.8" fill="#fff" stroke="#000" stroke-width="1"/>
<rect x="377.05" y="341.40" width="4.8" height="4.8" fill="#fff" stroke="#000" stroke-width="1"/>
<rect x="407.15" y="269.10" width="4.8" height="4.8" fill="#fff" stroke="#000" stroke-width="1"/>
<rect x="452.30" y="302.60" width="4.8" height="4.8" fill="#fff" stroke="#000" stroke-width="1"/>
<rect x="497.45" y="323.90" width="4.8" height="4.8" fill="#fff" stroke="#000" stroke-width="1"/>
<text x="360.00" y="230.45" font-size="10.2" font-weight="bold" text-anchor="middle" stroke="#000" stroke-width="0.35">D</text>
<text x="300.50" y="292.70" font-size="11" font-weight="bold" text-anchor="middle" stroke="#000" stroke-width="0.2" transform="rotate(-90 300.50 292.70)" textLength="101.4" lengthAdjust="spacingAndGlyphs">Platelets (X 10<tspan font-size="8" dy="-2.6">6</tspan><tspan dy="2.6">/mL)</tspan></text>
</g>
</svg>
</body></html>
